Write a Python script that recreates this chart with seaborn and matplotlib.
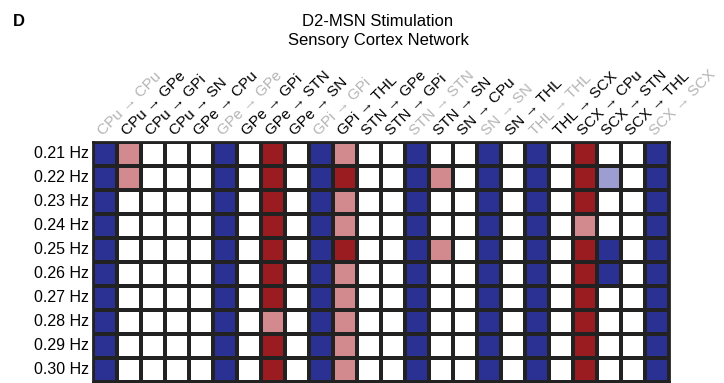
import numpy as np
import pandas as pd
import seaborn as sns
import matplotlib.pyplot as plt
from matplotlib.colors import ListedColormap, BoundaryNorm

freqs = ["0.21 Hz", "0.22 Hz", "0.23 Hz", "0.24 Hz", "0.25 Hz",
         "0.26 Hz", "0.27 Hz", "0.28 Hz", "0.29 Hz", "0.30 Hz"]

connections = ["CPu → CPu", "CPu → GPe", "CPu → GPi", "CPu → SN", "GPe → CPu",
               "GPe → GPe", "GPe → GPi", "GPe → STN", "GPe → SN", "GPi → GPi",
               "GPi → THL", "STN → GPe", "STN → GPi", "STN → STN", "STN → SN",
               "SN → CPu", "SN → SN", "SN → THL", "THL → THL", "THL → SCX",
               "SCX → CPu", "SCX → STN", "SCX → THL", "SCX → SCX"]

self_conn = ["CPu → CPu", "GPe → GPe", "GPi → GPi", "STN → STN",
             "SN → SN", "THL → THL", "SCX → SCX"]

# -2 strong decrease, -1 weak decrease, 0 none, 1 weak increase, 2 strong increase
values = {
    "CPu → CPu": [-2, -2, -2, -2, -2, -2, -2, -2, -2, -2],
    "CPu → GPe": [1, 1, 0, 0, 0, 0, 0, 0, 0, 0],
    "CPu → GPi": [0, 0, 0, 0, 0, 0, 0, 0, 0, 0],
    "CPu → SN": [0, 0, 0, 0, 0, 0, 0, 0, 0, 0],
    "GPe → CPu": [0, 0, 0, 0, 0, 0, 0, 0, 0, 0],
    "GPe → GPe": [-2, -2, -2, -2, -2, -2, -2, -2, -2, -2],
    "GPe → GPi": [0, 0, 0, 0, 0, 0, 0, 0, 0, 0],
    "GPe → STN": [2, 2, 2, 2, 2, 2, 2, 1, 2, 2],
    "GPe → SN": [0, 0, 0, 0, 0, 0, 0, 0, 0, 0],
    "GPi → GPi": [-2, -2, -2, -2, -2, -2, -2, -2, -2, -2],
    "GPi → THL": [1, 2, 1, 1, 2, 1, 1, 1, 1, 1],
    "STN → GPe": [0, 0, 0, 0, 0, 0, 0, 0, 0, 0],
    "STN → GPi": [0, 0, 0, 0, 0, 0, 0, 0, 0, 0],
    "STN → STN": [-2, -2, -2, -2, -2, -2, -2, -2, -2, -2],
    "STN → SN": [0, 1, 0, 0, 1, 0, 0, 0, 0, 0],
    "SN → CPu": [0, 0, 0, 0, 0, 0, 0, 0, 0, 0],
    "SN → SN": [-2, -2, -2, -2, -2, -2, -2, -2, -2, -2],
    "SN → THL": [0, 0, 0, 0, 0, 0, 0, 0, 0, 0],
    "THL → THL": [-2, -2, -2, -2, -2, -2, -2, -2, -2, -2],
    "THL → SCX": [0, 0, 0, 0, 0, 0, 0, 0, 0, 0],
    "SCX → CPu": [2, 2, 2, 1, 2, 2, 2, 2, 2, 2],
    "SCX → STN": [0, -1, 0, 0, -2, -2, 0, 0, 0, 0],
    "SCX → THL": [0, 0, 0, 0, 0, 0, 0, 0, 0, 0],
    "SCX → SCX": [-2, -2, -2, -2, -2, -2, -2, -2, -2, -2],
}

df = pd.DataFrame(values, index=freqs)[connections]

cmap = ListedColormap(["#2b3192", "#9c9dd0", "#ffffff", "#d38a8f", "#9a1b20"])
norm = BoundaryNorm([-2.5, -1.5, -0.5, 0.5, 1.5, 2.5], cmap.N)

plt.rcParams['font.family'] = ['Liberation Sans', 'DejaVu Sans']

fig = plt.figure(figsize=(7.24, 3.83), dpi=100)
ax = fig.add_axes([93 / 724, 1 / 383, 576 / 724, 240 / 383])

sns.heatmap(df, ax=ax, cmap=cmap, norm=norm, cbar=False,
            linewidths=1.5, linecolor="#222222", square=False)

ax.xaxis.tick_top()
ax.set_xticks(np.arange(len(connections)) + 0.5)
ax.set_xticklabels(connections, rotation=45, ha="left", va="bottom",
                   rotation_mode="anchor", fontsize=11)
for lbl in ax.get_xticklabels():
    if lbl.get_text() in self_conn:
        lbl.set_color("#b5b5b5")
ax.set_yticklabels(freqs, rotation=0, fontsize=11.5)
ax.tick_params(axis="both", length=0, pad=3)
ax.set_xlabel("")
ax.set_ylabel("")
for s in ax.spines.values():
    s.set_visible(True)
    s.set_linewidth(2)
    s.set_color("#222222")

fig.text(378 / 724, 1 - 21 / 383, "D2-MSN Stimulation", ha="center", va="center", fontsize=12)
fig.text(378 / 724, 1 - 40 / 383, "Sensory Cortex Network", ha="center", va="center", fontsize=12)
fig.text(13 / 724, 1 - 21 / 383, "D", ha="left", va="center", fontsize=12, fontweight="bold")

fig.savefig("out.png", dpi=100)
